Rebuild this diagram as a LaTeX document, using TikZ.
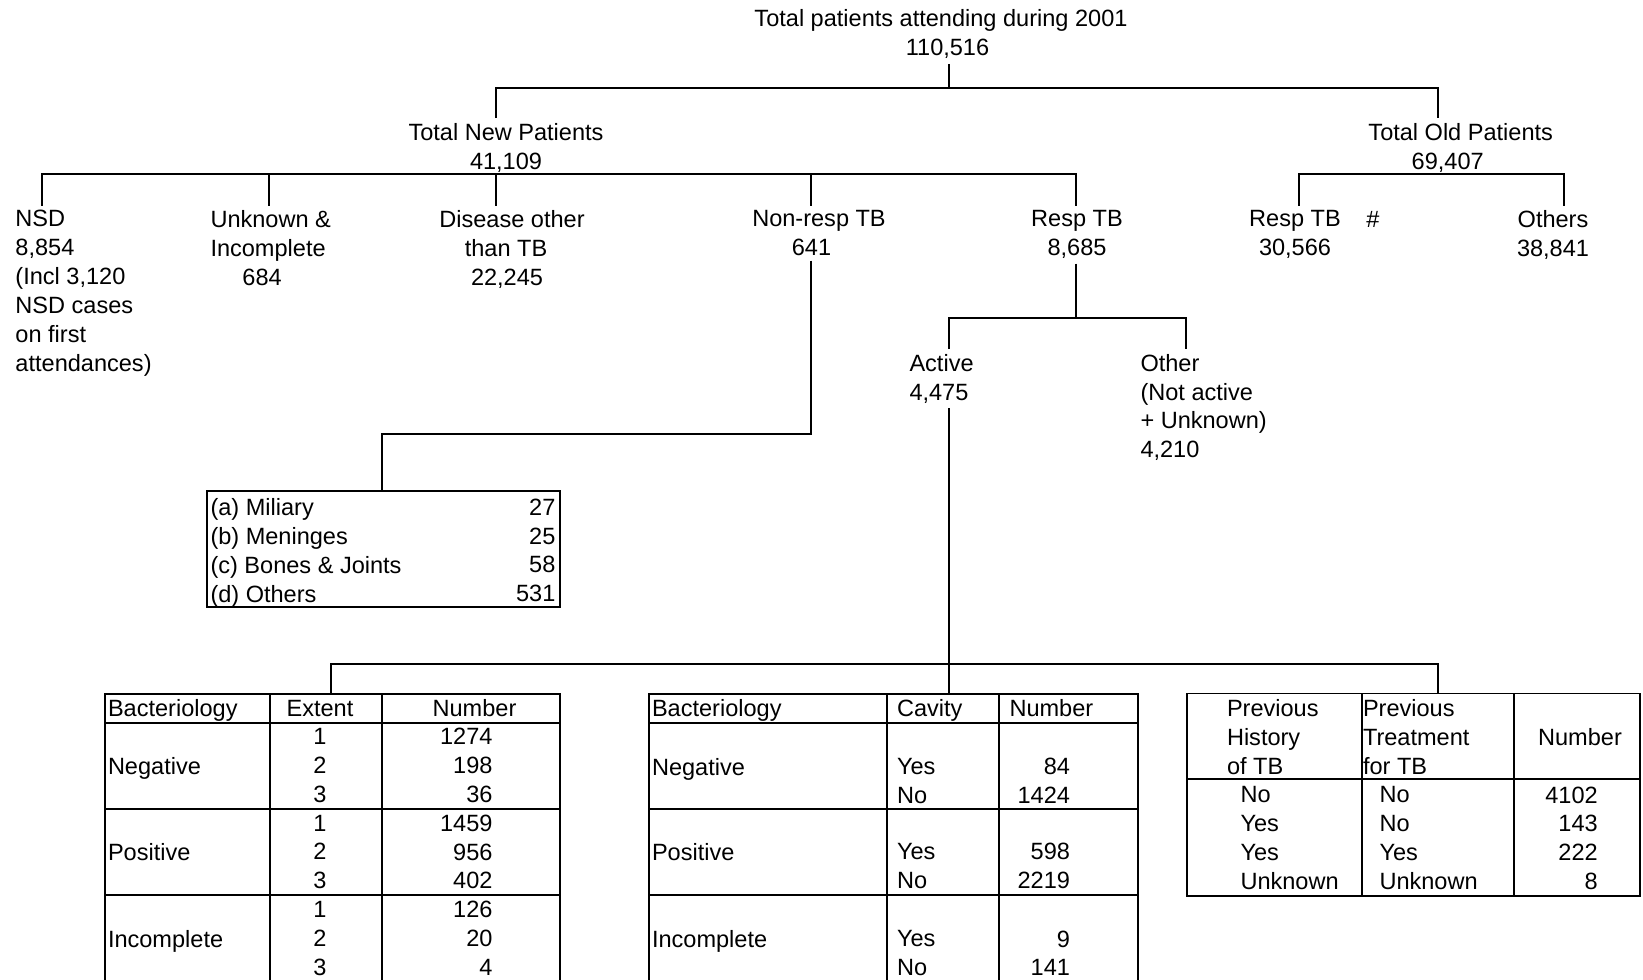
\documentclass[tikz,border=0pt]{standalone}
\usepackage{fontspec}
\setmainfont{Liberation Sans}

\begin{document}
\begin{tikzpicture}[x=0.02cm, y=-0.02cm, line width=1.1pt,
  font=\fontsize{13.4}{16.4}\selectfont,
  lbl/.style={inner sep=0pt, outer xsep=0pt, outer ysep=0.1cm},
  cell/.style={inner sep=0pt, outer sep=0pt},
  tab/.style={draw, inner sep=0pt, outer sep=0pt}]
\useasboundingbox (0,0) rectangle (1643,980);
% tree labels
\node[lbl, anchor=north, align=center] (title) at (941,4.9) {Total patients attending during 2001\\\hspace*{0.26cm}110,516};
\node[lbl, anchor=north, align=center] (newTot) at (506,118.2) {Total New Patients\\41,109};
\node[lbl, anchor=north, align=center] (oldTot) at (1460.7,118.2) {Total Old Patients\\\hspace*{-0.52cm}69,407};
\node[lbl, anchor=north west, align=left] (nsd) at (15.5,205.5) {NSD\\8,854\\(Incl 3,120\\NSD cases\\on first\\attendances)};
\node[lbl, anchor=north west, align=left] (unk) at (210.5,205.5) {Unknown \&\\Incomplete\\\hspace*{0.64cm}684};
\node[lbl, anchor=north, align=center] (dis) at (512,205.5) {Disease other\\\hspace*{-0.24cm}than TB\\\hspace*{-0.2cm}22,245};
\node[lbl, anchor=north, align=center] (nonresp) at (819,205.5) {Non-resp TB\\\hspace*{-0.3cm}641};
\node[lbl, anchor=north, align=center] (resp) at (1077,205.5) {Resp TB\\8,685};
\node[lbl, anchor=north, align=center] (oldResp) at (1295,205.5) {Resp TB\\30,566};
\node[cell, anchor=base] (hash) at (1372.8,227.5) {\#};
\node[lbl, anchor=north, align=center] (others) at (1553,205.5) {Others\\38,841};
\node[lbl, anchor=north west, align=left] (active) at (909.5,349.2) {Active\\4,475};
\node[lbl, anchor=north west, align=left] (other) at (1140.5,349.2) {Other\\(Not active\\+ Unknown)\\4,210};
% boxes and tables
\node[tab, anchor=north west, minimum width=7.07cm, minimum height=2.308cm] (sites) at (207,491.4) {};
\node[tab, anchor=north west, minimum width=9.114cm, minimum height=5.76cm] (extTab) at (104.8,694) {};
\node[tab, anchor=north west, minimum width=9.78cm, minimum height=5.76cm] (cavTab) at (648.7,694) {};
\node[tab, anchor=north west, minimum width=9.066cm, minimum height=4.044cm] (histTab) at (1186.7,693.5) {};
% connectors
\coordinate (jTop) at (948.6,88.3);
\coordinate (jNew) at (495.8,88.3);
\coordinate (jOld) at (1438.4,88.3);
\draw (jTop |- title.south) -- (jTop);
\draw (jNew |- newTot.north) -- (jNew) -- (jOld) -- (jOld |- oldTot.north);
\coordinate (bNsd) at (41.8,174.3);
\coordinate (bUnk) at (269.3,174.3);
\coordinate (bDis) at (495.8,174.3);
\coordinate (bNonresp) at (810.7,174.3);
\coordinate (bResp) at (1075.6,174.3);
\draw (bNsd |- nsd.north) -- (bNsd) -- (bResp) -- (bResp |- resp.north);
\draw (bUnk) -- (bUnk |- unk.north);
\draw (bDis) -- (bDis |- dis.north);
\draw (bNonresp) -- (bNonresp |- nonresp.north);
\coordinate (bOldResp) at (1299.3,174.3);
\coordinate (bOthers) at (1563.8,174.3);
\draw (bOldResp |- oldResp.north) -- (bOldResp) -- (bOthers) -- (bOthers |- others.north);
\coordinate (jSites) at (382,433.6);
\draw (bNonresp |- nonresp.south) |- (jSites) -- (jSites |- sites.north);
\coordinate (jActive) at (948.6,318.3);
\coordinate (jOther) at (1186.4,318.3);
\draw (bResp |- resp.south) -- (bResp |- jActive);
\draw (jActive |- active.north) -- (jActive) -- (jOther) -- (jOther |- other.north);
\coordinate (jExt) at (331.4,664.3);
\coordinate (jCav) at (948.6,664.3);
\coordinate (jHist) at (1438,664.3);
\draw (jActive |- active.south) -- (jCav) -- (jCav |- cavTab.north);
\draw (jExt |- extTab.north) -- (jExt) -- (jHist) -- (jHist |- histTab.north);
% sites box
\node[cell, anchor=north west, align=left] (siteNames) at (210.5,498.9) {(a) Miliary\\(b) Meninges\\(c) Bones \& Joints\\(d) Others};
\node[cell, anchor=north east, align=right] (siteNums) at (555.4,498.9) {27\\25\\58\\531};
% extent table
\draw (104.8,723) -- (560.5,723);
\draw (104.8,808.6) -- (560.5,808.6);
\draw (104.8,895) -- (560.5,895);
\draw (269.7,694) -- (269.7,982);
\draw (382,694) -- (382,982);
\node[cell, anchor=base west] (extH1) at (108,716) {Bacteriology};
\node[cell, anchor=base] (extH2) at (320,716) {Extent};
\node[cell, anchor=base] (extH3) at (474.5,716) {Number};
\node[cell, anchor=base west] (extNeg) at (108,774.2) {Negative};
\node[cell, anchor=base west] (extPos) at (108,860.6) {Positive};
\node[cell, anchor=base west] (extInc) at (108,947.4) {Incomplete};
\node[cell, anchor=north, align=center] (extDeg) at (320,728.4) {1\\2\\3\\1\\2\\3\\1\\2\\3};
\node[cell, anchor=north east, align=right] (extNums) at (492.5,728.4) {1274\\198\\36\\1459\\956\\402\\126\\20\\4};
% cavity table
\draw (648.7,722.7) -- (1137.7,722.7);
\draw (648.7,809) -- (1137.7,809);
\draw (648.7,895) -- (1137.7,895);
\draw (887.3,694) -- (887.3,982);
\draw (999,694) -- (999,982);
\node[cell, anchor=base west] (cavH1) at (652,716.5) {Bacteriology};
\node[cell, anchor=base west] (cavH2) at (897,716.5) {Cavity};
\node[cell, anchor=base west] (cavH3) at (1009.5,716.5) {Number};
\node[cell, anchor=base west] (cavNeg) at (652,775.2) {Negative};
\node[cell, anchor=base west] (cavPos) at (652,860.2) {Positive};
\node[cell, anchor=base west] (cavInc) at (652,947.5) {Incomplete};
\node[cell, anchor=north west, align=left] (cavNegYN) at (897,758.3) {Yes\\No};
\node[cell, anchor=north west, align=left] (cavPosYN) at (897,843.3) {Yes\\No};
\node[cell, anchor=north west, align=left] (cavIncYN) at (897,930.6) {Yes\\No};
\node[cell, anchor=north east, align=right] (cavNegNum) at (1070,758.3) {84\\1424};
\node[cell, anchor=north east, align=right] (cavPosNum) at (1070,843.3) {598\\2219};
\node[cell, anchor=north east, align=right] (cavIncNum) at (1070,930.6) {9\\141};
% history table
\draw (1186.7,779) -- (1640,779);
\draw (1362,693.5) -- (1362,895.7);
\draw (1514,693.5) -- (1514,895.7);
\node[cell, anchor=north west, align=left] (histH1) at (1227,699.9) {Previous\\History\\of TB};
\node[cell, anchor=north west, align=left] (histH2) at (1363,699.9) {Previous\\Treatment\\for TB};
\node[cell, anchor=base] (histH3) at (1580,745.2) {Number};
\node[cell, anchor=north west, align=left] (histPrev) at (1240.5,786.6) {No\\Yes\\Yes\\Unknown};
\node[cell, anchor=north west, align=left] (histTreat) at (1379.5,786.6) {No\\No\\Yes\\Unknown};
\node[cell, anchor=north east, align=right] (histNums) at (1597.7,786.6) {4102\\143\\222\\8};
\end{tikzpicture}
\end{document}
